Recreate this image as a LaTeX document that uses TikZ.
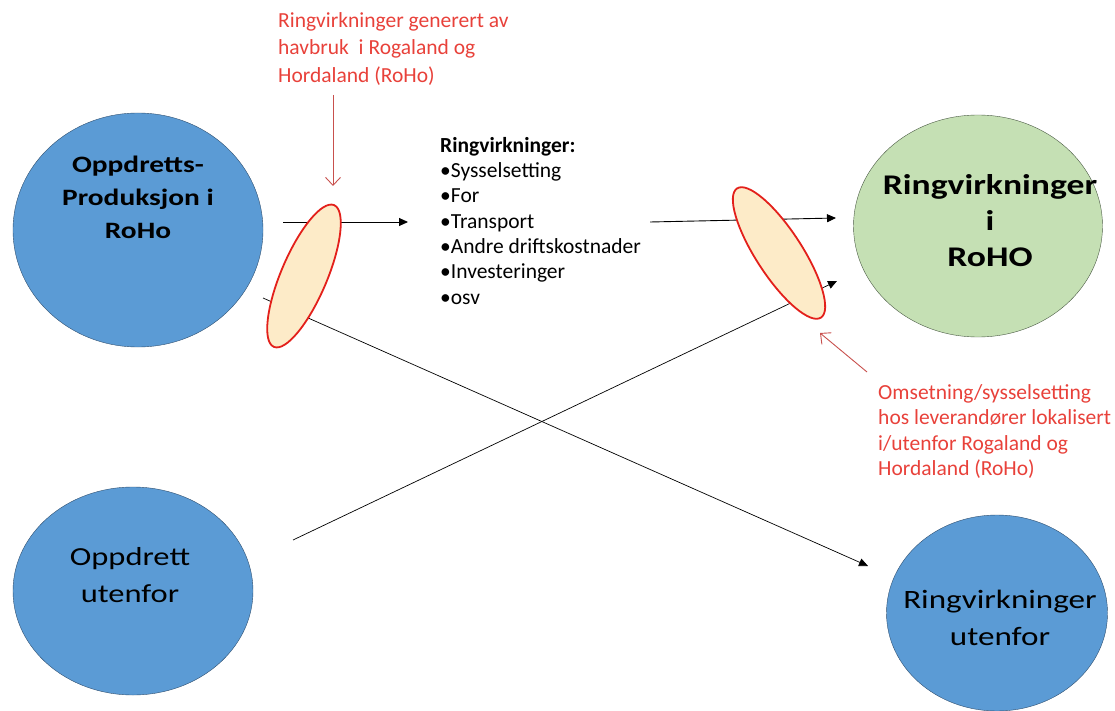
\documentclass[tikz,border=0pt]{standalone}
\usepackage{fontspec}
\setmainfont{Carlito}
\newfontfamily\widefont[FakeStretch=1.25]{Carlito}
\usetikzlibrary{shapes.geometric,arrows.meta}
\definecolor{circleblue}{HTML}{5B9BD5}
\definecolor{blueline}{HTML}{2F4F6F}
\definecolor{ringgreen}{HTML}{C5E0B4}
\definecolor{greenline}{HTML}{4A5A44}
\definecolor{ringfill}{HTML}{FDEBC8}
\definecolor{ringred}{HTML}{E3201B}
\definecolor{notered}{HTML}{E8413A}
\definecolor{arrowred}{HTML}{C8504D}
\begin{document}
\begin{tikzpicture}[x=1pt,y=-1pt,
	blob/.style={ellipse,draw=blueline,fill=circleblue,thin,inner sep=0pt},
	ring/.style={ellipse,draw=ringred,fill=ringfill,line width=1.8pt,minimum width=154pt,minimum height=46pt},
	note/.style={text=notered,align=left,anchor=north west,inner sep=0pt,font=\fontsize{21.5}{27.8}\selectfont},
	flow/.style={line width=0.9pt,-{Triangle[length=9pt,width=8pt]}},
	cross/.style={line width=0.7pt,-{Triangle[length=9pt,width=8pt]}},
	hint/.style={draw=arrowred,line width=0.9pt,-{Straight Barb[length=8pt,width=15pt]}}]

	\useasboundingbox (0,0) rectangle (1115,711);

	\node (prod) [blob,minimum width=250pt,minimum height=234pt] at (138,230) {};
	\node (prod text) [align=center,font=\widefont\fontsize{23.5}{33}\selectfont\bfseries] at (138,197) {Oppdretts-\\Produksjon i\\RoHo};

	\node (farm out) [blob,minimum width=240pt,minimum height=208pt] at (133,591) {};
	\node (farm out text) [align=center,font=\widefont\fontsize{26}{37}\selectfont] at (130,575) {Oppdrett\\utenfor};

	\node (effect in) [ellipse,draw=greenline,fill=ringgreen,thin,minimum width=249pt,minimum height=222pt] at (978,226) {};
	\node (effect in text) [align=center,font=\widefont\fontsize{28.5}{36}\selectfont\bfseries] at (990,221) {Ringvirkninger\\i\\RoHO};

	\node (effect out) [blob,minimum width=221pt,minimum height=196pt] at (997,613) {};
	\node (effect out text) [align=center,font=\widefont\fontsize{26.5}{37}\selectfont] at (1000,618) {Ringvirkninger\\utenfor};

	\node (effects) [anchor=north west,align=left,inner sep=0pt,font=\fontsize{21.5}{25.3}\selectfont] at (440,137)
		{\textbf{Ringvirkninger:}\\•Sysselsetting\\•For\\•Transport\\•Andre driftskostnader\\•Investeringer\\•osv};

	\coordinate (left in)   at (283,222);
	\coordinate (left out)  at (408,222);
	\coordinate (right in)  at (650,222);
	\coordinate (right out) at (836,218);
	\coordinate (farm start)   at (293,540);
	\coordinate (farm end)     at (837,281);
	\coordinate (prod start)   at (263,298);
	\coordinate (prod end)     at (868,566);

	\draw[flow] (left in) -- (left out);
	\draw[flow] (right in) -- (right out);
	\draw[cross] (farm start) -- (farm end);
	\draw[cross] (prod start) -- (prod end);

	\node (left ring)  [ring,rotate=67]  at (304,276) {};
	\node (right ring) [ring,rotate=123] at (779,253) {};

	\node (top note) [note] at (278,12) {Ringvirkninger generert av\\havbruk\ \ i Rogaland og\\Hordaland (RoHo)};
	\node (side note) [note,font=\fontsize{21.5}{25.5}\selectfont] at (878,384) {Omsetning/sysselsetting\\hos leverandører lokalisert\\i/utenfor Rogaland og\\Hordaland (RoHo)};

	\coordinate (top hint start) at (333,95);
	\coordinate (top hint end)   at (333,186);
	\coordinate (side hint start) at (867,372);
	\coordinate (side hint end)   at (820,333);

	\draw[hint] (top hint start) -- (top hint end);
	\draw[hint] (side hint start) -- (side hint end);

\end{tikzpicture}
\end{document}
